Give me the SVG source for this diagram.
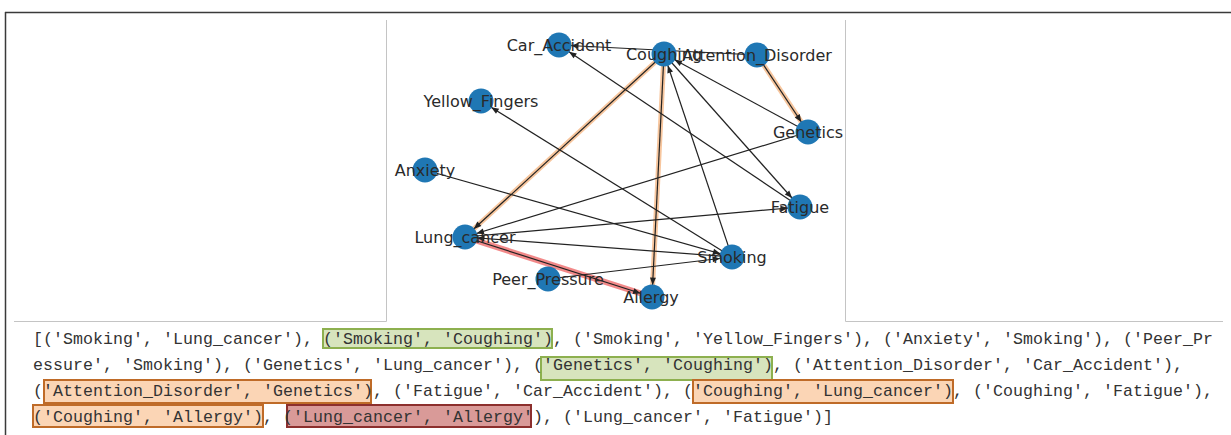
<svg xmlns="http://www.w3.org/2000/svg" width="1231" height="435" viewBox="0 0 1231 435">
<style>
.frame{stroke:#3a3a3a;stroke-width:1.5;fill:none}
.pane{stroke:#c4c4c4;stroke-width:1;fill:none}
.edge{stroke:#222;stroke-width:1.2;fill:none}
.hl-or{stroke:#f3a86a;stroke-opacity:0.65;stroke-width:5;fill:none;stroke-linecap:round}
.hl-red{stroke:#ef6b6b;stroke-opacity:0.8;stroke-width:6;fill:none;stroke-linecap:round}
.node{fill:#1f77b4}
.lbl{font-family:"DejaVu Sans",sans-serif;font-size:16px;fill:#2a2a2a;text-anchor:middle;dominant-baseline:central}
.code{font-family:"Liberation Mono","DejaVu Sans Mono",monospace;font-size:16.6px;fill:#333}
.bx-g{fill:#d7e4bd;stroke:#8db04f;stroke-width:2}
.bx-o{fill:#fbd5b5;stroke:#bf6b28;stroke-width:2}
.bx-r{fill:#d99a98;stroke:#8c2f2d;stroke-width:2}
</style>
<defs>
<marker id="ah" markerUnits="userSpaceOnUse" markerWidth="40" markerHeight="12" refX="32" refY="6" orient="auto" overflow="visible">
<path d="M12.5,3 L20,6 L12.5,9 z" fill="#222"/>
</marker>
</defs>
<rect width="1231" height="435" fill="#fff"/>
<g id="frame">
<line class="frame" x1="5" y1="12.5" x2="1231" y2="12.5"/>
<line class="frame" x1="5.5" y1="12" x2="5.5" y2="435"/>
<line class="pane" x1="14" y1="321.5" x2="386.5" y2="321.5"/>
<line class="pane" x1="845.5" y1="321.5" x2="1223" y2="321.5"/>
<line class="pane" x1="386.5" y1="20" x2="386.5" y2="321.5"/>
<line class="pane" x1="845.5" y1="20" x2="845.5" y2="321.5"/>
</g>
<g id="connectors">
<line class="hl-or" x1="757" y1="55" x2="808" y2="132"/>
<line class="hl-or" x1="664" y1="54" x2="465" y2="237"/>
<line class="hl-or" x1="664" y1="54" x2="652" y2="297"/>
<line class="hl-red" x1="465" y1="237" x2="652" y2="297"/>
<line class="edge" marker-end="url(#ah)" x1="732" y1="257" x2="465" y2="237"/>
<line class="edge" marker-end="url(#ah)" x1="732" y1="257" x2="664" y2="54"/>
<line class="edge" marker-end="url(#ah)" x1="732" y1="257" x2="481" y2="101"/>
<line class="edge" marker-end="url(#ah)" x1="425" y1="170" x2="732" y2="257"/>
<line class="edge" marker-end="url(#ah)" x1="548" y1="279" x2="732" y2="257"/>
<line class="edge" marker-end="url(#ah)" x1="808" y1="132" x2="465" y2="237"/>
<line class="edge" marker-end="url(#ah)" x1="808" y1="132" x2="664" y2="54"/>
<line class="edge" marker-end="url(#ah)" x1="757" y1="55" x2="559" y2="45"/>
<line class="edge" marker-end="url(#ah)" x1="757" y1="55" x2="808" y2="132"/>
<line class="edge" marker-end="url(#ah)" x1="800" y1="207" x2="559" y2="45"/>
<line class="edge" marker-end="url(#ah)" x1="664" y1="54" x2="465" y2="237"/>
<line class="edge" marker-end="url(#ah)" x1="664" y1="54" x2="800" y2="207"/>
<line class="edge" marker-end="url(#ah)" x1="664" y1="54" x2="652" y2="297"/>
<line class="edge" marker-end="url(#ah)" x1="465" y1="237" x2="652" y2="297"/>
<line class="edge" marker-end="url(#ah)" x1="465" y1="237" x2="800" y2="207"/>
</g>
<g id="n-car-accident"><circle class="node" cx="559" cy="45" r="12.5"/><text class="lbl" x="559" y="45">Car_Accident</text></g>
<g id="n-yellow-fingers"><circle class="node" cx="481" cy="101" r="12.5"/><text class="lbl" x="481" y="101">Yellow_Fingers</text></g>
<g id="n-anxiety"><circle class="node" cx="425" cy="170" r="12.5"/><text class="lbl" x="425" y="170">Anxiety</text></g>
<g id="n-lung-cancer"><circle class="node" cx="465" cy="237" r="12.5"/><text class="lbl" x="465" y="237">Lung_cancer</text></g>
<g id="n-peer-pressure"><circle class="node" cx="548" cy="279" r="12.5"/><text class="lbl" x="548" y="279">Peer_Pressure</text></g>
<g id="n-allergy"><circle class="node" cx="652" cy="297" r="12.5"/><text class="lbl" x="651" y="297">Allergy</text></g>
<g id="n-smoking"><circle class="node" cx="732" cy="257" r="12.5"/><text class="lbl" x="732" y="257">Smoking</text></g>
<g id="n-fatigue"><circle class="node" cx="800" cy="207" r="12.5"/><text class="lbl" x="800" y="207">Fatigue</text></g>
<g id="n-genetics"><circle class="node" cx="808" cy="132" r="12.5"/><text class="lbl" x="808" y="132">Genetics</text></g>
<g id="n-attention-disorder"><circle class="node" cx="757" cy="55" r="12.5"/><text class="lbl" x="757" y="55">Attention_Disorder</text></g>
<g id="n-coughing"><circle class="node" cx="664" cy="54" r="12.5"/><text class="lbl" x="664" y="54">Coughing</text></g>
<g id="output-text">
<rect class="bx-g" x="323" y="329" width="229" height="19"/>
<rect class="bx-g" x="541" y="357" width="231" height="23"/>
<rect class="bx-o" x="44" y="380" width="327" height="23"/>
<rect class="bx-o" x="693" y="380" width="260" height="23"/>
<rect class="bx-o" x="33" y="405" width="230" height="22"/>
<rect class="bx-r" x="287" y="405" width="244" height="22"/>
<text class="code" x="33" y="344" textLength="1180" lengthAdjust="spacing">[('Smoking', 'Lung_cancer'), ('Smoking', 'Coughing'), ('Smoking', 'Yellow_Fingers'), ('Anxiety', 'Smoking'), ('Peer_Pr</text>
<text class="code" x="33" y="370" textLength="1150" lengthAdjust="spacing">essure', 'Smoking'), ('Genetics', 'Lung_cancer'), ('Genetics', 'Coughing'), ('Attention_Disorder', 'Car_Accident'),</text>
<text class="code" x="33" y="396" textLength="1180" lengthAdjust="spacing">('Attention_Disorder', 'Genetics'), ('Fatigue', 'Car_Accident'), ('Coughing', 'Lung_cancer'), ('Coughing', 'Fatigue'),</text>
<text class="code" x="33" y="422" textLength="800" lengthAdjust="spacing">('Coughing', 'Allergy'), ('Lung_cancer', 'Allergy'), ('Lung_cancer', 'Fatigue')]</text>
</g>
</svg>
